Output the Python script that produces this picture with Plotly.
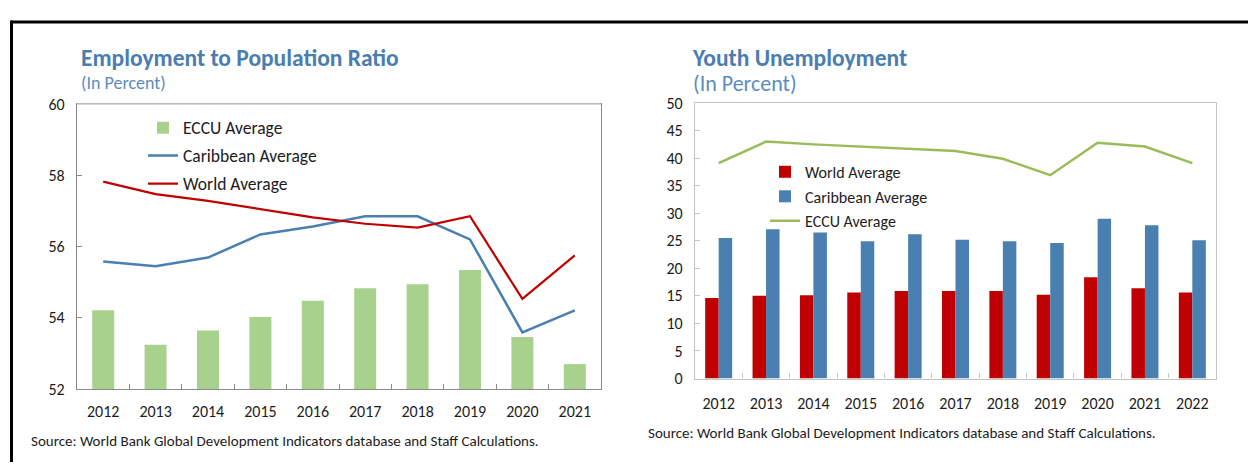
import plotly.graph_objects as go

# ---- Employment to population ratio (percent) ----
years_emp = ["2012", "2013", "2014", "2015", "2016", "2017", "2018", "2019", "2020", "2021"]
eccu_emp = [54.21, 53.24, 53.64, 54.02, 54.48, 54.83, 54.94, 55.34, 53.46, 52.70]
carib_emp = [55.58, 55.45, 55.69, 56.34, 56.56, 56.85, 56.85, 56.20, 53.59, 54.21]
world_emp = [57.82, 57.47, 57.28, 57.04, 56.82, 56.64, 56.53, 56.85, 54.53, 55.75]
emp_ticks = [52, 54, 56, 58, 60]

# ---- Youth unemployment (percent) ----
years_yu = ["2012", "2013", "2014", "2015", "2016", "2017", "2018", "2019", "2020", "2021", "2022"]
world_yu = [14.6, 15.0, 15.1, 15.6, 15.9, 15.9, 15.9, 15.2, 18.4, 16.4, 15.6]
carib_yu = [25.5, 27.1, 26.5, 24.9, 26.2, 25.2, 24.9, 24.6, 29.0, 27.8, 25.1]
eccu_yu = [39.1, 43.0, 42.5, 42.1, 41.7, 41.3, 39.9, 36.9, 42.8, 42.1, 39.1]
yu_ticks = [0, 5, 10, 15, 20, 25, 30, 35, 40, 45, 50]

W, H = 1248, 472
FONT = "Carlito, Calibri, Lato, sans-serif"
TITLE_BLUE = "#4a7db0"
SUB_BLUE = "#5a8cc2"
TEXT = "#1c1c1c"
GREEN_BAR = "#a9d18e"
GREEN_LINE = "#9bbb59"
BLUE = "#4a7fb1"
RED = "#c00000"


def px(x):
    return x / W


def py(y):
    return 1 - y / H


fig = go.Figure()

# left panel
fig.add_trace(go.Bar(x=years_emp, y=[v - 52 for v in eccu_emp], base=52, name="ECCU Average",
                     marker=dict(color=GREEN_BAR, line=dict(width=0)), width=0.42, offset=-0.21,
                     xaxis="x", yaxis="y", legend="legend", legendgroup="a"))
fig.add_trace(go.Scatter(x=years_emp, y=carib_emp, name="Caribbean Average", mode="lines",
                         line=dict(color=BLUE, width=2.5), xaxis="x", yaxis="y",
                         legend="legend", legendgroup="b"))
fig.add_trace(go.Scatter(x=years_emp, y=world_emp, name="World Average", mode="lines",
                         line=dict(color=RED, width=2.2), xaxis="x", yaxis="y",
                         legend="legend", legendgroup="c"))

# right panel
fig.add_trace(go.Bar(x=years_yu, y=world_yu, name="World Average",
                     marker=dict(color=RED, line=dict(width=0)), width=0.285, offset=-0.285,
                     xaxis="x2", yaxis="y2", legend="legend2", legendgroup="d"))
fig.add_trace(go.Bar(x=years_yu, y=carib_yu, name="Caribbean Average",
                     marker=dict(color=BLUE, line=dict(width=0)), width=0.285, offset=0,
                     xaxis="x2", yaxis="y2", legend="legend2", legendgroup="e"))
fig.add_trace(go.Scatter(x=years_yu, y=eccu_yu, name="ECCU Average", mode="lines",
                         line=dict(color=GREEN_LINE, width=2.5), xaxis="x2", yaxis="y2",
                         legend="legend2", legendgroup="f"))

tickfont = dict(family=FONT, size=16, color=TEXT)

fig.update_layout(
    width=W, height=H, margin=dict(l=0, r=0, t=0, b=0),
    paper_bgcolor="white", plot_bgcolor="white",
    font=dict(family=FONT, color=TEXT),
    xaxis=dict(domain=[px(77), px(601)], anchor="y", type="category", range=[-0.5, 9.5],
               showline=True, linecolor="#8a8a8a", linewidth=1.3, mirror=True,
               ticks="inside", tickson="boundaries", ticklen=5, tickcolor="#8a8a8a",
               showgrid=False, tickfont=tickfont, ticklabelstandoff=8),
    yaxis=dict(domain=[py(396), py(99)], anchor="x", range=[52, 60], tickvals=emp_ticks,
               showline=True, linecolor="#8a8a8a", linewidth=1.3, mirror=True,
               ticks="inside", ticklen=5, tickcolor="#8a8a8a", showgrid=False, zeroline=False,
               tickfont=tickfont, ticklabelstandoff=8),
    xaxis2=dict(domain=[px(695), px(1216)], anchor="y2", type="category", range=[-0.5, 10.5],
                showline=True, linecolor="#c4c4c4", linewidth=1.3, mirror=True,
                ticks="inside", tickson="boundaries", ticklen=5, tickcolor="#c4c4c4",
                showgrid=False, tickfont=tickfont, ticklabelstandoff=10),
    yaxis2=dict(domain=[py(385), py(98)], anchor="x2", range=[0, 50], tickvals=yu_ticks,
                showline=True, linecolor="#c4c4c4", linewidth=1.3, mirror=True,
                ticks="inside", ticklen=5, tickcolor="#c4c4c4", showgrid=False, zeroline=False,
                tickfont=tickfont, ticklabelstandoff=8),
    legend=dict(x=px(143), y=py(105), xanchor="left", yanchor="top", bgcolor="rgba(0,0,0,0)",
                font=dict(family=FONT, size=17.5, color=TEXT), traceorder="grouped",
                tracegroupgap=2.2, itemclick=False),
    legend2=dict(x=px(765), y=py(152), xanchor="left", yanchor="top", bgcolor="rgba(0,0,0,0)",
                 font=dict(family=FONT, size=16, color=TEXT), traceorder="grouped",
                 tracegroupgap=0.7, itemclick=False),
    showlegend=True,
)

# lighter top edge on the left panel frame
fig.add_shape(type="line", xref="x domain", yref="y domain", x0=0, x1=1, y0=1, y1=1,
              line=dict(color="#c8c8c8", width=1.5))

# outer black frame (top and left edge)
fig.add_shape(type="line", xref="paper", yref="paper", x0=px(11), x1=1, y0=py(13.5), y1=py(13.5),
              line=dict(color="black", width=3))
fig.add_shape(type="line", xref="paper", yref="paper", x0=px(11.5), x1=px(11.5), y0=py(12), y1=0,
              line=dict(color="black", width=3))

# panel headings: bold title with the unit line beneath it
headings = [
    (79, 62, 17.5, "Employment to Population Ratio", 23.5, 18),
    (690, 64, 19, "Youth Unemployment", 23.5, 22),
]
for x, yc, base, title, tsize, ssize in headings:
    text = (f"<span style='font-size:{tsize}px;color:{TITLE_BLUE}'><b>{title}</b></span><br>"
            f"<span style='font-size:{ssize}px;color:{SUB_BLUE}'>(In Percent)</span>")
    fig.add_annotation(x=px(x), y=py(yc), xref="paper", yref="paper", xanchor="left",
                       yanchor="middle", align="left", text=text, showarrow=False,
                       font=dict(family=FONT, size=base, color=TITLE_BLUE))

sources = [(29, 450), (646, 442)]
for x, y in sources:
    fig.add_annotation(x=px(x), y=py(y), xref="paper", yref="paper", xanchor="left", yanchor="middle",
                       text="Source: World Bank Global Development Indicators database and Staff Calculations.",
                       showarrow=False, font=dict(family=FONT, size=15, color=TEXT))

fig.write_html("out.html", post_script="document.body.style.margin='0';")
